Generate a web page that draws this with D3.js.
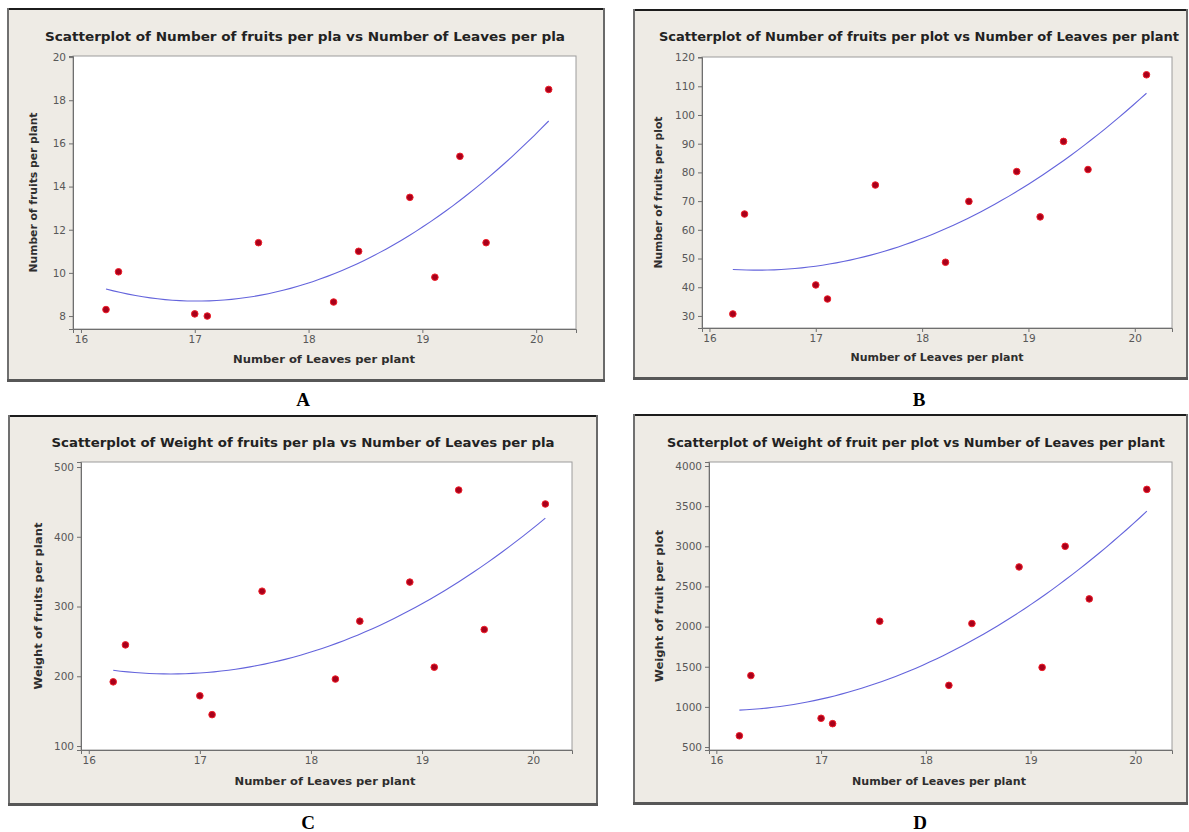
<!DOCTYPE html>
<html>
<head>
<meta charset="utf-8">
<script src="https://cdn.jsdelivr.net/npm/d3@7"></script>
<style>
  body { margin: 0; background: #fff; }
  svg text { font-family: "DejaVu Sans", Verdana, sans-serif; }
</style>
</head>
<body>
<div id="chart"></div>
<script>
// Shared x values: number of leaves per plant
const leaves = [16.22, 16.33, 17.0, 17.11, 17.56, 18.22, 18.44, 18.89, 19.11, 19.33, 19.56, 20.11];

// y values for each of the four scatterplots
const fruitsPerPlant = [8.3, 10.05, 8.1, 8.0, 11.4, 8.65, 11.0, 13.5, 9.8, 15.4, 11.4, 18.5];
const fruitsPerPlot = [30.7, 65.5, 40.8, 35.9, 75.6, 48.7, 69.9, 80.3, 64.5, 90.8, 81.0, 114];
const weightPerPlant = [192, 245, 172, 145, 322, 196, 279, 335, 213, 467, 267, 447];
const weightPerPlot = [640, 1390, 858, 791, 2067, 1268, 2038, 2743, 1492, 3000, 2345, 3709];

// Tick labels
const xTicks = [16, 17, 18, 19, 20];
const yTicksA = [8, 10, 12, 14, 16, 18, 20];
const yTicksB = [30, 40, 50, 60, 70, 80, 90, 100, 110, 120];
const yTicksC = [100, 200, 300, 400, 500];
const yTicksD = [500, 1000, 1500, 2000, 2500, 3000, 3500, 4000];

const xLabel = 'Number of Leaves per plant';

// Layout of each panel (frame and plot boxes are [x0, y0, x1, y1])
const panels = [
  { letter: 'A', ys: fruitsPerPlant, yTicks: yTicksA, yDomain: [7.4, 20.05],
    title: 'Scatterplot of Number of fruits per pla vs Number of Leaves per pla',
    yLabel: 'Number of fruits per plant',
    frame: [7, 8, 605, 382], plot: [73, 56, 576, 329],
    titleX: 305, titleY: 41, titleW: 520,
    xLabelX: 324, xLabelY: 363, xLabelW: 182,
    yLabelX: 37, yLabelW: 160, letterPos: [303, 406] },
  { letter: 'B', ys: fruitsPerPlot, yTicks: yTicksB, yDomain: [25.8, 120.2],
    title: 'Scatterplot of Number of fruits per plot vs Number of Leaves per plant',
    yLabel: 'Number of fruits per plot',
    frame: [633, 9, 1188, 380], plot: [702, 57, 1172, 328],
    titleX: 919, titleY: 41, titleW: 520,
    xLabelX: 937, xLabelY: 361, xLabelW: 173,
    yLabelX: 662, yLabelW: 152, letterPos: [919, 406] },
  { letter: 'C', ys: weightPerPlant, yTicks: yTicksC, yDomain: [94.3, 507.2],
    title: 'Scatterplot of Weight of fruits per pla vs Number of Leaves per pla',
    yLabel: 'Weight of fruits per plant',
    frame: [8, 415, 598, 806], plot: [81, 462, 572, 750],
    titleX: 303, titleY: 447, titleW: 503,
    xLabelX: 325, xLabelY: 785, xLabelW: 181,
    yLabelX: 42, yLabelW: 167, letterPos: [308, 829] },
  { letter: 'D', ys: weightPerPlot, yTicks: yTicksD, yDomain: [463, 4050],
    title: 'Scatterplot of Weight of fruit per plot vs Number of Leaves per plant',
    yLabel: 'Weight of fruit per plot',
    frame: [633, 414, 1188, 805], plot: [709, 462, 1172, 750],
    titleX: 916, titleY: 447, titleW: 498,
    xLabelX: 939, xLabelY: 785, xLabelW: 174,
    yLabelX: 663, yLabelW: 152, letterPos: [920, 829] }
];

const xDomain = [15.93, 20.35];

// Least squares quadratic fit (the regression curve drawn on every plot)
function quadFit(xs, ys) {
  const mx = d3.mean(xs);
  const S = [0, 0, 0, 0, 0], T = [0, 0, 0];
  xs.forEach((x, i) => {
    const u = x - mx;
    for (let k = 0; k < 5; k++) S[k] += Math.pow(u, k);
    for (let k = 0; k < 3; k++) T[k] += ys[i] * Math.pow(u, k);
  });
  const A = [[S[0], S[1], S[2], T[0]], [S[1], S[2], S[3], T[1]], [S[2], S[3], S[4], T[2]]];
  for (let c = 0; c < 3; c++) {
    for (let r = c + 1; r < 3; r++) {
      const f = A[r][c] / A[c][c];
      for (let k = c; k < 4; k++) A[r][k] -= f * A[c][k];
    }
  }
  const b = [0, 0, 0];
  for (let r = 2; r >= 0; r--) {
    let s = A[r][3];
    for (let k = r + 1; k < 3; k++) s -= A[r][k] * b[k];
    b[r] = s / A[r][r];
  }
  return x => b[0] + b[1] * (x - mx) + b[2] * (x - mx) * (x - mx);
}

const svg = d3.select('#chart')
  .append('svg')
  .attr('width', 1189)
  .attr('height', 832);

panels.forEach(p => {
  const [fx0, fy0, fx1, fy1] = p.frame;
  const [px0, py0, px1, py1] = p.plot;
  const g = svg.append('g');

  // Grey window frame
  g.append('rect')
    .attr('x', fx0).attr('y', fy0)
    .attr('width', fx1 - fx0).attr('height', fy1 - fy0)
    .attr('fill', '#eeebe5');
  g.append('line').attr('x1', fx0).attr('x2', fx1).attr('y1', fy0 + 1).attr('y2', fy0 + 1)
    .attr('stroke', '#1c1c1c').attr('stroke-width', 2);
  g.append('line').attr('x1', fx0 + 1).attr('x2', fx0 + 1).attr('y1', fy0).attr('y2', fy1)
    .attr('stroke', '#707070').attr('stroke-width', 2);
  g.append('line').attr('x1', fx1 - 1).attr('x2', fx1 - 1).attr('y1', fy0).attr('y2', fy1)
    .attr('stroke', '#6a6a6a').attr('stroke-width', 2);
  g.append('line').attr('x1', fx0).attr('x2', fx1).attr('y1', fy1 - 1.5).attr('y2', fy1 - 1.5)
    .attr('stroke', '#575757').attr('stroke-width', 3);

  // Scales
  const x = d3.scaleLinear().domain(xDomain).range([px0, px1]);
  const y = d3.scaleLinear().domain(p.yDomain).range([py1, py0]);

  // Plot area
  g.append('rect')
    .attr('x', px0).attr('y', py0)
    .attr('width', px1 - px0).attr('height', py1 - py0)
    .attr('fill', '#fff')
    .attr('stroke', '#9c9c9c');

  // Axes
  const xAxis = g.append('g')
    .attr('transform', `translate(0, ${py1})`)
    .call(d3.axisBottom(x).tickValues(xTicks).tickSize(4).tickPadding(3).tickFormat(d3.format('d')));
  const yAxis = g.append('g')
    .attr('transform', `translate(${px0}, 0)`)
    .call(d3.axisLeft(y).tickValues(p.yTicks).tickSize(4).tickPadding(3).tickFormat(d3.format('d')));
  [xAxis, yAxis].forEach(ax => {
    ax.select('.domain').attr('stroke', '#6f6f6f');
    ax.selectAll('.tick line').attr('stroke', '#6f6f6f');
    ax.selectAll('.tick text')
      .attr('fill', '#585858')
      .style('font-size', '10.5px')
      .style('font-family', '"DejaVu Sans", Verdana, sans-serif');
  });

  // Fitted curve
  const fit = quadFit(leaves, p.ys);
  const xs = d3.range(61).map(i => d3.min(leaves) + i * (d3.max(leaves) - d3.min(leaves)) / 60);
  g.append('path')
    .datum(xs)
    .attr('fill', 'none')
    .attr('stroke', '#6464dc')
    .attr('stroke-width', 1.1)
    .attr('d', d3.line().x(d => x(d)).y(d => y(fit(d))));

  // Points
  g.selectAll('circle')
    .data(leaves.map((d, i) => [d, p.ys[i]]))
    .enter()
    .append('circle')
    .attr('cx', d => x(d[0]))
    .attr('cy', d => y(d[1]))
    .attr('r', 3.3)
    .attr('fill', '#a8001a')
    .attr('stroke', '#f0202a')
    .attr('stroke-width', 1);

  // Title
  g.append('text')
    .attr('x', p.titleX).attr('y', p.titleY)
    .attr('text-anchor', 'middle')
    .attr('textLength', p.titleW)
    .attr('lengthAdjust', 'spacingAndGlyphs')
    .style('font-size', '12px')
    .style('font-weight', 'bold')
    .style('fill', '#222')
    .text(p.title);

  // X axis label
  g.append('text')
    .attr('x', p.xLabelX).attr('y', p.xLabelY)
    .attr('text-anchor', 'middle')
    .attr('textLength', p.xLabelW)
    .attr('lengthAdjust', 'spacingAndGlyphs')
    .style('font-size', '10.5px')
    .style('font-weight', 'bold')
    .style('fill', '#2e2e2e')
    .text(xLabel);

  // Y axis label
  g.append('text')
    .attr('transform', `translate(${p.yLabelX}, ${(py0 + py1) / 2}) rotate(-90)`)
    .attr('text-anchor', 'middle')
    .attr('textLength', p.yLabelW)
    .attr('lengthAdjust', 'spacingAndGlyphs')
    .style('font-size', '10.5px')
    .style('font-weight', 'bold')
    .style('fill', '#2e2e2e')
    .text(p.yLabel);

  // Panel letter below the frame
  svg.append('text')
    .attr('x', p.letterPos[0]).attr('y', p.letterPos[1])
    .attr('text-anchor', 'middle')
    .style('font-family', '"Liberation Serif", "Times New Roman", serif')
    .style('font-size', '19px')
    .style('font-weight', 'bold')
    .style('fill', '#000')
    .text(p.letter);
});
</script>
</body>
</html>
